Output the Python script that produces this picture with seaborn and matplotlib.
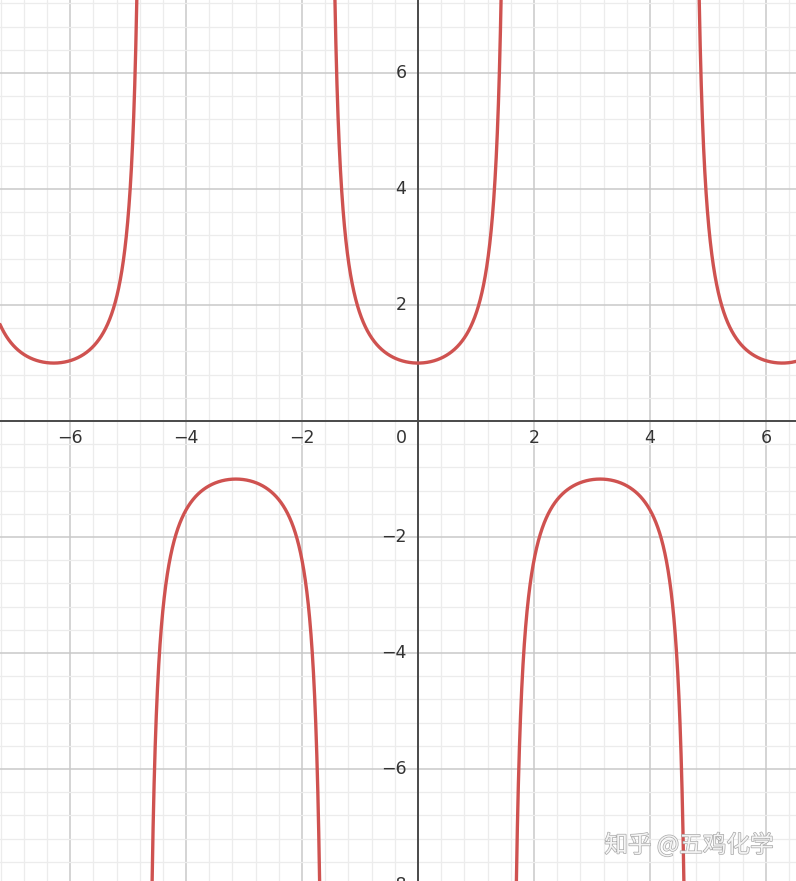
import numpy as np
import pandas as pd
import matplotlib
matplotlib.use("Agg")
import matplotlib.pyplot as plt
import matplotlib.patheffects as pe
import seaborn as sns

# Function branches of y = sec(x) between the vertical asymptotes
branch_starts = [-7.25, -3 * np.pi / 2, -np.pi / 2, np.pi / 2, 3 * np.pi / 2]
branch_ends = [-3 * np.pi / 2, -np.pi / 2, np.pi / 2, 3 * np.pi / 2, 6.56]
x_ticks = [-6, -4, -2, 2, 4, 6]
y_ticks = [-8, -6, -4, -2, 2, 4, 6]
x_range = [-7.21, 6.52]
y_range = [-7.93, 7.26]

rows = []
for i, (a, b) in enumerate(zip(branch_starts, branch_ends)):
    xs = np.linspace(a + 1e-4, b - 1e-4, 2000)
    ys = 1.0 / np.cos(xs)
    for xv, yv in zip(xs, ys):
        rows.append((i, xv, yv))
df = pd.DataFrame(rows, columns=["branch", "x", "y"])
df["y"] = df["y"].clip(-12, 12)

sns.set_theme(style="white")
plt.rcParams["font.family"] = ["Noto Sans CJK SC", "DejaVu Sans"]

fig = plt.figure(figsize=(7.96, 8.81), dpi=100)
ax = fig.add_axes([0, 0, 1, 1])

sns.lineplot(data=df, x="x", y="y", units="branch", estimator=None, sort=False,
             color="#cf5250", linewidth=2.4, ax=ax, zorder=3)
ax.set_xlabel("")
ax.set_ylabel("")

ax.set_xticks(np.arange(-8, 8.01, 2))
ax.set_yticks(np.arange(-8, 8.01, 2))
ax.set_xticks(np.arange(-8, 8.01, 0.4), minor=True)
ax.set_yticks(np.arange(-8, 8.01, 0.4), minor=True)
ax.set_xlim(*x_range)
ax.set_ylim(*y_range)
ax.grid(which="minor", color="#ececec", linewidth=0.9)
ax.grid(which="major", color="#c9c9c9", linewidth=1.1)
ax.tick_params(which="both", length=0, labelbottom=False, labelleft=False)
for s in ax.spines.values():
    s.set_visible(False)
ax.set_axisbelow(True)
ax.axhline(0, color="#4a4a4a", linewidth=1.4, zorder=2)
ax.axvline(0, color="#4a4a4a", linewidth=1.4, zorder=2)

lab_kw = dict(fontsize=12.5, color="#333333", family=["DejaVu Sans"])
for t in x_ticks:
    ax.text(t, -0.3, f"{t}".replace("-", "\u2212"), ha="center", va="center", **lab_kw)
ax.text(-0.2, -0.3, "0", ha="right", va="center", **lab_kw)
for t in y_ticks:
    ax.text(-0.2, t, f"{t}".replace("-", "\u2212"), ha="right", va="center", **lab_kw)

ax.text(0.972, 0.041, "知乎 @五鸡化学", transform=ax.transAxes, ha="right", va="center",
        fontsize=17, color="#f4f4f4", zorder=5,
        path_effects=[pe.withStroke(linewidth=1.0, foreground="#a8a8a8")])

fig.savefig("out.png", dpi=100)
